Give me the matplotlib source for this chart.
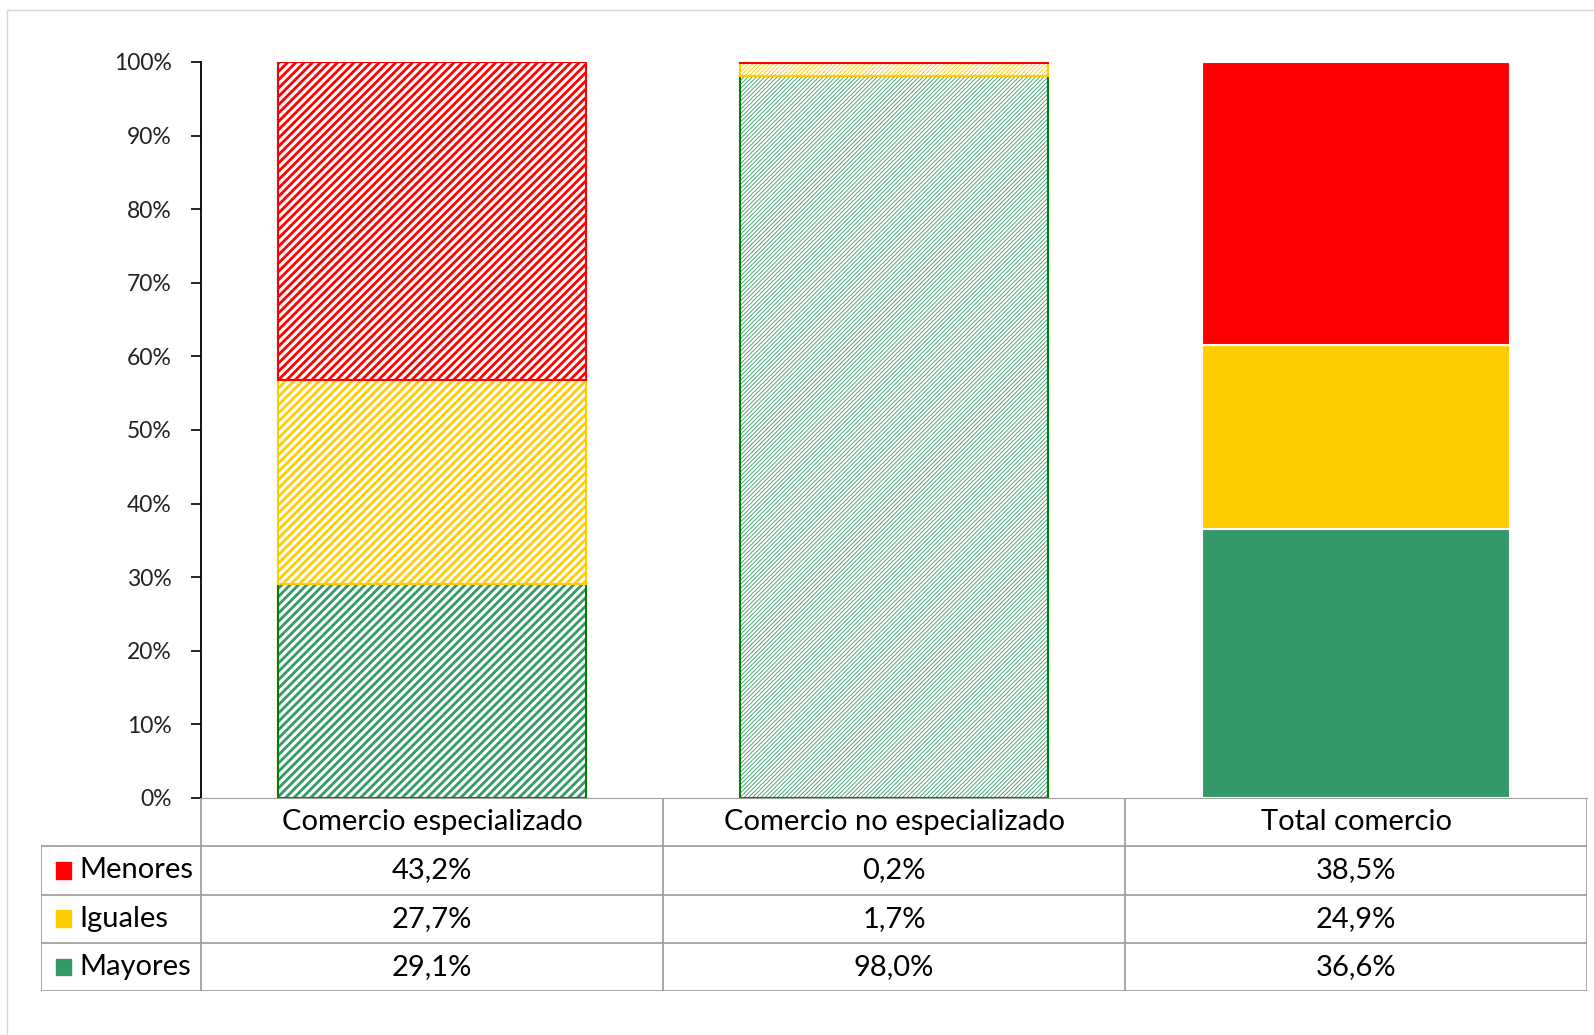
import numpy as np
import matplotlib
matplotlib.use('Agg')
import matplotlib.pyplot as plt
from matplotlib.patches import Rectangle

plt.rcParams['font.family'] = ['Lato', 'DejaVu Sans']

categorias = ['Comercio especializado', 'Comercio no especializado', 'Total comercio']
series = ['Menores', 'Iguales', 'Mayores']
menores = [43.2, 0.2, 38.5]
iguales = [27.7, 1.7, 24.9]
mayores = [29.1, 98.0, 36.6]
colores = {'Menores': '#FF0000', 'Iguales': '#FFCC00', 'Mayores': '#339966'}
bordes = {'Menores': '#FF0000', 'Iguales': '#FFCC00', 'Mayores': '#008000'}
rellenos = ['////', '////////', None]   # trama de cada columna
grosor_trama = [2.0, 0.6, 0]

valores = {'Menores': np.array(menores), 'Iguales': np.array(iguales), 'Mayores': np.array(mayores)}
total = valores['Menores'] + valores['Iguales'] + valores['Mayores']

fig = plt.figure(figsize=(15.94, 10.35), dpi=100)
fig.add_artist(Rectangle((7 / 1594, -0.1), 1.2, 1 - 10 / 1035 + 0.1, transform=fig.transFigure,
                         fill=False, edgecolor='#d4d4d4', linewidth=1))

ax = fig.add_axes([201 / 1594, 1 - 798 / 1035, (1587 - 201) / 1594, (798 - 62) / 1035])
x = np.arange(len(categorias))
ancho = 0.667

orden = ['Mayores', 'Iguales', 'Menores']
for i in range(len(categorias)):
    base = 0
    for s in orden:
        h = valores[s][i] / total[i] * 100
        if rellenos[i] is None:
            ax.bar(x[i], h, ancho, bottom=base, color=colores[s], edgecolor='white', linewidth=1.5)
        else:
            with plt.rc_context({'hatch.linewidth': grosor_trama[i]}):
                ax.bar(x[i], h, ancho, bottom=base, color='white', edgecolor=colores[s],
                       hatch=rellenos[i], linewidth=0)
            ax.bar(x[i], h, ancho, bottom=base, color='none', edgecolor=bordes[s], linewidth=1.5)
        base += h

ax.set_xlim(-0.5, 2.5)
ax.set_ylim(0, 100)
ax.set_yticks(np.arange(0, 101, 10))
ax.set_yticklabels([f'{v}%' for v in range(0, 101, 10)], fontsize=16.5, color='#222222')
ax.set_xticks([])
ax.tick_params(axis='y', length=7, width=1.2, pad=14)
for lado in ['top', 'right']:
    ax.spines[lado].set_visible(False)
ax.spines['left'].set_linewidth(1.3)
ax.spines['bottom'].set_color('#a0a0a0')

# tabla de datos
izq = -0.5 - (201 - 41) / 462
tab = fig.add_axes([41 / 1594, 1 - 991 / 1035, (1587 - 41) / 1594, (991 - 798) / 1035])
tab.set_xlim(izq, 2.5)
tab.set_ylim(4, 0)
tab.axis('off')
gris = '#a0a0a0'
for xv in [-0.5, 0.5, 1.5, 2.5]:
    tab.plot([xv, xv], [0, 4], color=gris, lw=1.3)
tab.plot([izq, izq], [1, 4], color=gris, lw=1.3)
for yv in [1, 2, 3, 4]:
    tab.plot([izq, 2.5], [yv, yv], color=gris, lw=1.3)

for i, c in enumerate(categorias):
    tab.text(x[i], 0.5, c, ha='center', va='center', fontsize=21, color='black')
for j, s in enumerate(series):
    fila = j + 1.5
    tab.add_patch(Rectangle((izq + 0.032, fila - 0.17), 0.034, 0.34, color=colores[s]))
    tab.text(izq + 0.082, fila, s, ha='left', va='center', fontsize=21, color='black')
    for i in range(len(categorias)):
        texto = f'{valores[s][i]:.1f}%'.replace('.', ',')
        tab.text(x[i], fila, texto, ha='center', va='center', fontsize=21, color='black')

fig.savefig('out.png', dpi=100)
